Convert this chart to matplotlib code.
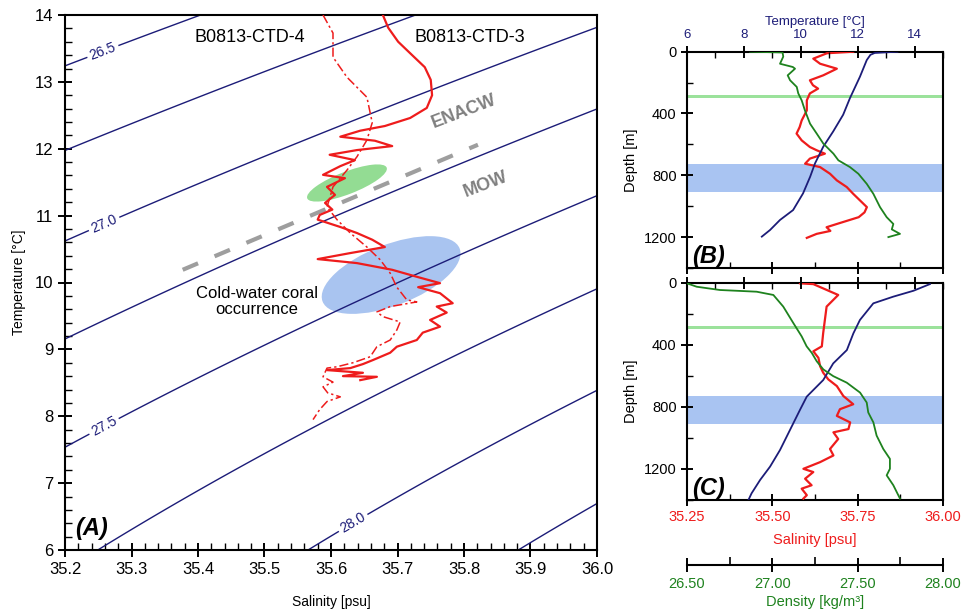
import numpy as np
import matplotlib.pyplot as plt
from matplotlib.patches import Ellipse
from matplotlib.ticker import MultipleLocator, FormatStrFormatter

plt.rcParams['font.family'] = ['Liberation Sans', 'DejaVu Sans']

# ---------------- data ----------------
# T-S diagram, B0813-CTD-4 (dash-dot)
ctd4_sal = [35.588, 35.603, 35.603, 35.624, 35.654, 35.662, 35.654, 35.639, 35.624,
            35.603, 35.594, 35.609, 35.629, 35.654, 35.674, 35.689, 35.699, 35.714,
            35.729, 35.689, 35.669, 35.678, 35.704, 35.699, 35.689, 35.669, 35.659,
            35.633, 35.609, 35.594, 35.588, 35.603, 35.588, 35.595, 35.614, 35.594,
            35.583, 35.573]
ctd4_temp = [14.00, 13.73, 13.37, 13.07, 12.77, 12.39, 12.13, 11.88, 11.68,
             11.43, 11.13, 10.94, 10.74, 10.53, 10.34, 10.14, 9.93, 9.74,
             9.71, 9.64, 9.56, 9.49, 9.41, 9.29, 9.14, 9.04, 8.89,
             8.80, 8.74, 8.72, 8.59, 8.51, 8.44, 8.35, 8.29, 8.22,
             8.10, 7.95]

# T-S diagram, B0813-CTD-3 (solid)
ctd3_sal = [35.678, 35.686, 35.701, 35.722, 35.741, 35.750, 35.752, 35.744, 35.719,
            35.681, 35.644, 35.614, 35.666, 35.692, 35.639, 35.598, 35.636, 35.614,
            35.588, 35.621, 35.594, 35.606, 35.591, 35.602, 35.583, 35.580, 35.614,
            35.639, 35.662, 35.681, 35.629, 35.580, 35.639, 35.692, 35.731, 35.764,
            35.731, 35.764, 35.783, 35.759, 35.774, 35.749, 35.764, 35.738, 35.729,
            35.699, 35.689, 35.663, 35.648, 35.629, 35.594, 35.648, 35.618, 35.669,
            35.644]
ctd3_temp = [14.00, 13.81, 13.60, 13.40, 13.22, 13.03, 12.80, 12.61, 12.46,
             12.34, 12.27, 12.18, 12.12, 12.04, 11.98, 11.91, 11.83, 11.74,
             11.61, 11.56, 11.43, 11.31, 11.19, 11.09, 11.01, 10.94, 10.83,
             10.74, 10.64, 10.53, 10.44, 10.35, 10.29, 10.19, 10.08, 9.99,
             9.93, 9.84, 9.69, 9.64, 9.55, 9.44, 9.34, 9.25, 9.14,
             9.04, 8.95, 8.84, 8.78, 8.72, 8.69, 8.65, 8.60, 8.59,
             8.54]

isopycnals = [26.75, 27.25, 27.75, 28.25]
labelled = [26.5, 27.0, 27.5, 28.0]
label_pos = [(35.256, 13.48), (35.256, 10.94), (35.256, 7.90), (35.633, 6.41)]

water_mass_line_sal = [35.377, 35.821]
water_mass_line_temp = [10.19, 12.06]

# profile (B)
b_temp_depth = [0, 4, 8, 20, 54, 162, 300, 408, 516, 615, 723, 809, 917, 1025, 1089, 1154, 1197]
b_temp = [13.4, 13.0, 12.6, 12.45, 12.32, 12.08, 11.73, 11.49, 11.14, 10.79, 10.5, 10.33,
          10.08, 9.73, 9.27, 8.92, 8.63]
b_sal_depth = [0, 10, 45, 78, 110, 153, 185, 217, 239, 270, 315, 380, 445, 488, 530, 574,
               617, 638, 660, 692, 725, 747, 790, 833, 876, 920, 963, 1006, 1040, 1071,
               1115, 1136, 1160, 1179, 1205]
b_sal = [35.737, 35.66, 35.62, 35.64, 35.689, 35.649, 35.61, 35.619, 35.634, 35.61, 35.601,
         35.601, 35.586, 35.58, 35.571, 35.586, 35.61, 35.63, 35.654, 35.61, 35.596, 35.64,
         35.669, 35.689, 35.718, 35.737, 35.757, 35.777, 35.77, 35.753, 35.689, 35.659,
         35.67, 35.63, 35.601]
b_dens_depth = [0, 5, 32, 78, 99, 110, 153, 185, 228, 270, 315, 380, 466, 530, 595, 660,
                703, 747, 790, 855, 920, 1006, 1071, 1115, 1150, 1179, 1200]
b_dens = [26.87, 27.06, 27.064, 27.045, 27.12, 27.133, 27.09, 27.104, 27.143, 27.152,
          27.172, 27.191, 27.221, 27.26, 27.299, 27.358, 27.387, 27.455, 27.504, 27.553,
          27.592, 27.631, 27.67, 27.709, 27.70, 27.748, 27.68]

# profile (C)
c_temp_depth = [9, 52, 90, 133, 240, 326, 434, 520, 627, 734, 820, 949, 1078, 1185, 1271,
                1357, 1400]
c_temp = [14.54, 13.96, 13.25, 12.55, 12.08, 11.85, 11.62, 11.14, 10.79, 10.21, 9.97, 9.62,
          9.27, 8.92, 8.57, 8.27, 8.16]
c_sal_depth = [4, 9, 79, 154, 239, 324, 410, 442, 484, 538, 580, 623, 666, 730, 783, 815,
               858, 900, 943, 964, 1007, 1071, 1113, 1156, 1199, 1220, 1263, 1305, 1327,
               1369, 1391]
c_sal = [35.581, 35.62, 35.693, 35.659, 35.654, 35.649, 35.645, 35.62, 35.635, 35.64,
         35.649, 35.664, 35.689, 35.708, 35.737, 35.698, 35.689, 35.728, 35.723, 35.679,
         35.693, 35.669, 35.679, 35.64, 35.591, 35.62, 35.596, 35.615, 35.586, 35.601,
         35.591]
c_dens_depth = [4, 26, 47, 58, 79, 154, 260, 346, 410, 452, 506, 559, 602, 644, 708, 772,
                836, 900, 985, 1071, 1135, 1199, 1241, 1305, 1391]
c_dens = [26.5, 26.557, 26.693, 26.908, 27.006, 27.064, 27.123, 27.172, 27.201, 27.231,
          27.26, 27.299, 27.357, 27.436, 27.514, 27.553, 27.562, 27.592, 27.611, 27.65,
          27.689, 27.689, 27.67, 27.709, 27.748]

mow_band = (280, 300)
coral_band = (730, 910)

NAVY = '#1c1c78'
RED = '#ee1c1c'
GREEN = '#1e821e'


def sigma_t(s, t):
    """Seawater density anomaly at the surface (EOS-80)"""
    rho_w = (999.842594 + 6.793952e-2 * t - 9.095290e-3 * t**2
             + 1.001685e-4 * t**3 - 1.120083e-6 * t**4 + 6.536332e-9 * t**5)
    a = (8.24493e-1 - 4.0899e-3 * t + 7.6438e-5 * t**2
         - 8.2467e-7 * t**3 + 5.3875e-9 * t**4)
    b = -5.72466e-3 + 1.0227e-4 * t - 1.6546e-6 * t**2
    c = 4.8314e-4
    return rho_w + a * s + b * s**1.5 + c * s**2 - 1000.0


fig = plt.figure(figsize=(9.65, 6.14), dpi=100)

# ---------------- (A) T-S diagram ----------------
axA = fig.add_axes([65 / 965, 1 - 550 / 614, 532 / 965, 535 / 614])
sg, tg = np.meshgrid(np.linspace(35.2, 36.0, 300), np.linspace(6, 14, 300))
dens_grid = sigma_t(sg, tg)
axA.contour(sg, tg, dens_grid, levels=isopycnals, colors=NAVY,
            linewidths=1.0, zorder=2)
cs = axA.contour(sg, tg, dens_grid, levels=labelled, colors=NAVY,
                 linewidths=1.0, zorder=2)
axA.clabel(cs, fmt='%.1f', fontsize=10, colors=NAVY,
           inline=True, inline_spacing=3, manual=label_pos)

axA.add_patch(Ellipse((0.530, 0.686), 0.160, 0.042, angle=21, transform=axA.transAxes,
                      facecolor='#93dc93', edgecolor='none', zorder=1))
axA.add_patch(Ellipse((0.613, 0.514), 0.276, 0.114, angle=21, transform=axA.transAxes,
                      facecolor='#a9c4f0', edgecolor='none', zorder=1))

axA.plot(water_mass_line_sal, water_mass_line_temp, color='#9e9e9e', lw=3,
         ls=(0, (4, 4.3)), zorder=2.5)
axA.plot(ctd4_sal, ctd4_temp, color=RED, lw=1.1, ls=(0, (6, 2, 1.5, 2)), zorder=3)
axA.plot(ctd3_sal, ctd3_temp, color=RED, lw=1.6, zorder=3)

axA.text(35.478, 13.66, 'B0813-CTD-4', fontsize=13, ha='center', va='center')
axA.text(35.808, 13.66, 'B0813-CTD-3', fontsize=13, ha='center', va='center')
axA.text(35.80, 12.55, 'ENACW', fontsize=13, fontweight='bold', color='#808080',
         rotation=21, ha='center', va='center')
axA.text(35.832, 11.46, 'MOW', fontsize=13, fontweight='bold', color='#808080',
         rotation=21, ha='center', va='center')
axA.text(35.488, 9.72, 'Cold-water coral\noccurrence', fontsize=12, ha='center',
         va='center', linespacing=1.1)
axA.text(0.019, 0.028, '(A)', transform=axA.transAxes, fontsize=17,
         fontweight='bold', style='italic')

axA.set_xlim(35.2, 36.0)
axA.set_ylim(6, 14)
axA.xaxis.set_major_locator(MultipleLocator(0.1))
axA.xaxis.set_minor_locator(MultipleLocator(0.02))
axA.yaxis.set_major_locator(MultipleLocator(1))
axA.yaxis.set_minor_locator(MultipleLocator(0.2))
axA.xaxis.set_major_formatter(FormatStrFormatter('%.1f'))
axA.yaxis.set_major_formatter(FormatStrFormatter('%d'))
axA.tick_params(which='major', direction='inout', length=10, width=1.4, labelsize=12)
axA.tick_params(which='minor', direction='in', length=5, width=1)
for sp in axA.spines.values():
    sp.set_linewidth(1.5)
axA.set_xlabel('Salinity [psu]', fontsize=10, labelpad=13)
axA.set_ylabel('Temperature [°C]', fontsize=10, labelpad=6)


# ---------------- (B), (C) profiles ----------------
def profile(rect, temp_d, temp, sal_d, sal, dens_d, dens, tag, bottom):
    ax = fig.add_axes(rect)
    ax.axhspan(*mow_band, color='#9be29b', lw=0, zorder=0)
    ax.axhspan(*coral_band, color='#a9c4f2', lw=0, zorder=0)
    ax.plot(sal, sal_d, color=RED, lw=1.6, zorder=3)
    ax.set_xlim(35.25, 36.0)
    ax.set_ylim(1400, 0)
    ax.xaxis.set_major_locator(MultipleLocator(0.25))
    ax.xaxis.set_minor_locator(MultipleLocator(0.125))
    ax.xaxis.set_major_formatter(FormatStrFormatter('%.2f'))
    ax.yaxis.set_major_locator(MultipleLocator(400))
    ax.yaxis.set_minor_locator(MultipleLocator(200))
    ax.yaxis.set_major_formatter(FormatStrFormatter('%d'))
    ax.tick_params(which='major', direction='inout', length=8, width=1.4,
                   labelsize=10.5, top=False, right=False)
    ax.tick_params(which='minor', direction='in', length=4, width=1, top=False, right=False)
    ax.set_ylabel('Depth [m]', fontsize=10.5, labelpad=4)
    for sp in ax.spines.values():
        sp.set_linewidth(1.5)

    ax_t = ax.twiny()
    ax_t.plot(temp, temp_d, color=NAVY, lw=1.3)
    ax_t.set_xlim(6, 15)
    ax_t.xaxis.set_major_locator(MultipleLocator(2))
    ax_t.xaxis.set_minor_locator(MultipleLocator(1))
    ax_t.tick_params(which='major', direction='inout', length=8, width=1.4,
                     labelsize=9.5, labelcolor=NAVY)
    ax_t.tick_params(which='minor', direction='in', length=4, width=1)
    for sp in ax_t.spines.values():
        sp.set_visible(False)

    ax_d = ax.twiny()
    ax_d.plot(dens, dens_d, color=GREEN, lw=1.3)
    ax_d.set_xlim(26.5, 28.0)
    for sp in ax_d.spines.values():
        sp.set_visible(False)
    ax_d.set_ylim(1400, 0)

    ax.text(0.022, 0.025, tag, transform=ax.transAxes, fontsize=17,
            fontweight='bold', style='italic')

    if bottom:
        ax.tick_params(axis='x', labelcolor=RED)
        ax.set_xlabel('Salinity [psu]', color=RED, fontsize=10.5, labelpad=6)
        ax_t.tick_params(labeltop=False)
        ax_d.xaxis.set_ticks_position('bottom')
        ax_d.xaxis.set_label_position('bottom')
        ax_d.spines['bottom'].set_visible(True)
        ax_d.spines['bottom'].set_linewidth(1.5)
        ax_d.spines['bottom'].set_position(('outward', 47))
        ax_d.xaxis.set_major_locator(MultipleLocator(0.5))
        ax_d.xaxis.set_minor_locator(MultipleLocator(0.25))
        ax_d.xaxis.set_major_formatter(FormatStrFormatter('%.2f'))
        ax_d.tick_params(which='major', direction='inout', length=10, width=1.4,
                         labelsize=10.5, labelcolor=GREEN)
        ax_d.tick_params(which='minor', direction='in', length=6, width=1.2)
        ax_d.set_xlabel('Density [kg/m³]', color=GREEN, fontsize=10.5, labelpad=3)
    else:
        ax.tick_params(axis='x', labelbottom=False)
        ax_t.set_xlabel('Temperature [°C]', color=NAVY, fontsize=9.5, labelpad=3)
        ax_d.xaxis.set_visible(False)
    return ax


profile([687 / 965, 1 - 268 / 614, 256 / 965, 216.3 / 614],
        b_temp_depth, b_temp, b_sal_depth, b_sal, b_dens_depth, b_dens, '(B)', False)
profile([687 / 965, 1 - 500 / 614, 256 / 965, 217.3 / 614],
        c_temp_depth, c_temp, c_sal_depth, c_sal, c_dens_depth, c_dens, '(C)', True)

plt.savefig('out.png', dpi=100)
plt.close()
